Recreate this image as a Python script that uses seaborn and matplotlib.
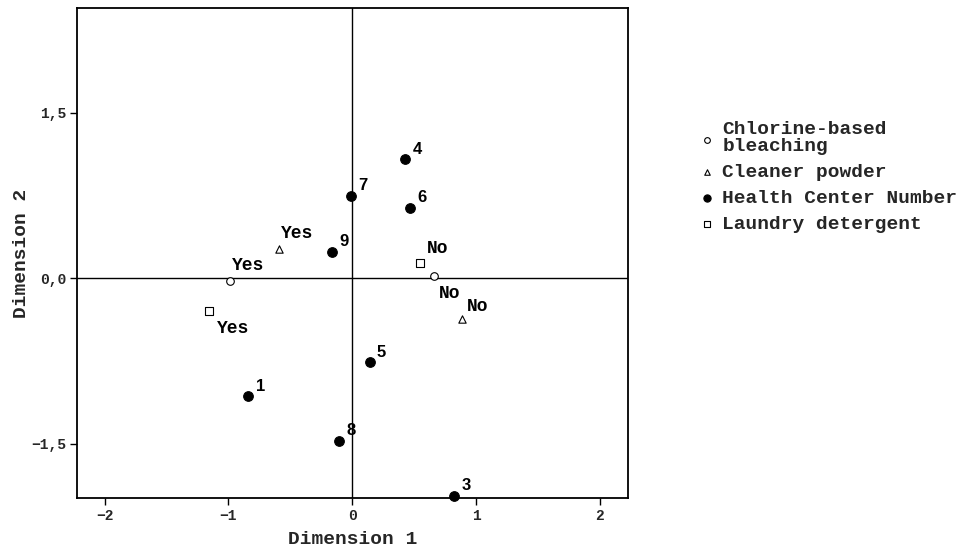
import matplotlib
matplotlib.use('Agg')
import matplotlib.pyplot as plt
import seaborn as sns
import pandas as pd
from matplotlib.ticker import FixedLocator, FixedFormatter

sns.set_theme(style='white')
plt.rcParams['font.family'] = ['Liberation Mono', 'DejaVu Sans']

# ---- data ----
hc_labels = ['1', '3', '4', '5', '6', '7', '8', '9']
hc_x = [-0.84, 0.82, 0.43, 0.14, 0.47, -0.01, -0.11, -0.16]
hc_y = [-1.07, -1.97, 1.08, -0.76, 0.64, 0.75, -1.47, 0.24]

chl_labels = ['Yes', 'No']
chl_x = [-0.99, 0.66]
chl_y = [-0.02, 0.02]

cln_labels = ['Yes', 'No']
cln_x = [-0.59, 0.89]
cln_y = [0.27, -0.37]

lau_labels = ['Yes', 'No']
lau_x = [-1.16, 0.55]
lau_y = [-0.30, 0.14]

series_names = ['Chlorine-based\nbleaching', 'Cleaner powder',
                'Health Center Number', 'Laundry detergent']

x_ticks = [-2, -1, 0, 1, 2]
x_ticklabels = ['\u22122', '\u22121', '0', '1', '2']
y_ticks = [-1.5, 0.0, 1.5]
y_ticklabels = ['\u22121,5', '0,0', '1,5']

# ---- figure ----
fig = plt.figure(figsize=(9.71, 5.5), dpi=100)
ax = fig.add_axes([77 / 971, 1 - 498 / 550, (628 - 77) / 971, (498 - 8) / 550])

frames = {
    series_names[0]: pd.DataFrame({'x': chl_x, 'y': chl_y, 'lab': chl_labels}),
    series_names[1]: pd.DataFrame({'x': cln_x, 'y': cln_y, 'lab': cln_labels}),
    series_names[2]: pd.DataFrame({'x': hc_x, 'y': hc_y, 'lab': hc_labels}),
    series_names[3]: pd.DataFrame({'x': lau_x, 'y': lau_y, 'lab': lau_labels}),
}
styles = {
    series_names[0]: dict(marker='o', color='white', s=30),
    series_names[1]: dict(marker='^', color='white', s=28),
    series_names[2]: dict(marker='o', color='black', s=48),
    series_names[3]: dict(marker='s', color='white', s=28),
}

ax.axhline(0, color='black', lw=1.0, zorder=1)
ax.axvline(0, color='black', lw=1.0, zorder=1)

for name, df in frames.items():
    st = styles[name]
    sns.scatterplot(data=df, x='x', y='y', marker=st['marker'], color=st['color'],
                    edgecolor='black', linewidth=0.8, s=st['s'], ax=ax,
                    label=name, zorder=3, clip_on=False)

# label offsets in pixels (dx, dy up-positive)
num_off = (12, 10)
txt_offsets = {
    series_names[0]: [(18, 15), (16, -17)],
    series_names[1]: [(18, 15), (15, 13)],
    series_names[3]: [(24, -17), (17, 14)],
}
for name, df in frames.items():
    for i, row in df.reset_index(drop=True).iterrows():
        if name == series_names[2]:
            off = num_off
            kw = dict(family=['Liberation Sans', 'DejaVu Sans'], fontsize=12,
                      fontweight='bold')
        else:
            off = txt_offsets[name][i]
            kw = dict(family=['Liberation Mono', 'DejaVu Sans'], fontsize=13,
                      fontweight='bold')
        ax.annotate(row['lab'], (row['x'], row['y']), xytext=off,
                    textcoords='offset pixels', ha='center', va='center',
                    color='black', **kw)

ax.set_xlim(-2.223, 2.227)
ax.set_ylim(-1.99, 2.45)
ax.xaxis.set_major_locator(FixedLocator(x_ticks))
ax.xaxis.set_major_formatter(FixedFormatter(x_ticklabels))
ax.yaxis.set_major_locator(FixedLocator(y_ticks))
ax.yaxis.set_major_formatter(FixedFormatter(y_ticklabels))
ax.tick_params(axis='both', direction='out', length=5, width=1, color='black',
               labelsize=10.5, pad=3, bottom=True, left=True)
for lab in ax.get_xticklabels() + ax.get_yticklabels():
    lab.set_fontweight('bold')
for sp in ax.spines.values():
    sp.set_color('black')
    sp.set_linewidth(1.3)

ax.set_xlabel('Dimension 1', fontsize=14, fontweight='bold', labelpad=6)
ax.set_ylabel('Dimension 2', fontsize=14, fontweight='bold', labelpad=1)

leg = ax.legend(loc='upper left', bbox_to_anchor=(0.713, 0.797),
                bbox_transform=fig.transFigure, frameon=False,
                prop={'family': 'Liberation Mono', 'weight': 'bold', 'size': 14},
                handletextpad=0.55, handlelength=0.5, labelspacing=0.42,
                borderpad=0, markerscale=0.75)
for t in leg.get_texts():
    t.set_linespacing(1.0)

fig.savefig('out.png', dpi=100)
